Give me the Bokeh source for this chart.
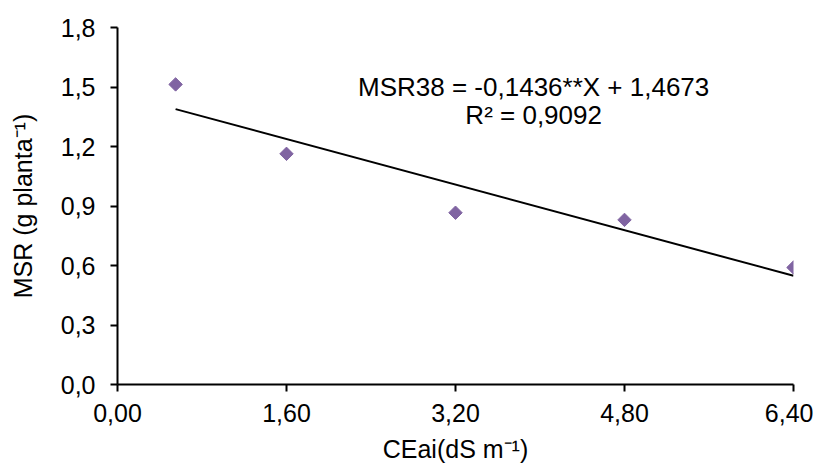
import math
from bokeh.plotting import figure
from bokeh.models import FixedTicker, Range1d, Label, ColumnDataSource
from bokeh.embed import file_html
from bokeh.resources import INLINE

# Data
cea = [0.55, 1.6, 3.2, 4.8, 6.4]
msr = [1.513, 1.163, 0.866, 0.830, 0.590]
slope = -0.1436
intercept = 1.4673
x_ticks = [0.0, 1.6, 3.2, 4.8, 6.4]
x_tick_labels = ["0,00", "1,60", "3,20", "4,80", "6,40"]
y_ticks = [0.0, 0.3, 0.6, 0.9, 1.2, 1.5, 1.8]
y_tick_labels = ["0,0", "0,3", "0,6", "0,9", "1,2", "1,5", "1,8"]
eq_text = "MSR38 = -0,1436**X + 1,4673"
r2_text = "R² = 0,9092"
x_title = "CEai(dS m⁻¹)"
y_title = "MSR (g planta⁻¹)"

FONT = "Liberation Sans"

p = figure(width=813, height=465, output_backend="svg", toolbar_location=None,
           x_range=Range1d(0, 6.4), y_range=Range1d(0, 1.8),
           min_border_left=117, min_border_right=20, min_border_top=27, min_border_bottom=81)
p.outline_line_color = None
p.grid.visible = False
p.background_fill_color = "white"
p.border_fill_color = "white"

# trendline from coefficients
tx = [min(cea), max(cea)]
ty = [slope * v + intercept for v in tx]
p.line(tx, ty, line_color="black", line_width=2)

src = ColumnDataSource(dict(x=cea, y=msr))
p.scatter("x", "y", source=src, marker="square", size=9.5, angle=math.pi / 4,
          fill_color="#8064A2", line_color="#8064A2")

for ax, ticks, labels in ((p.xaxis[0], x_ticks, x_tick_labels), (p.yaxis[0], y_ticks, y_tick_labels)):
    ax.ticker = FixedTicker(ticks=ticks)
    ax.major_label_overrides = {t: l for t, l in zip(ticks, labels)}
    ax.minor_tick_line_color = None
    ax.major_tick_in = 0
    ax.major_tick_out = 7
    ax.axis_line_width = 2
    ax.major_tick_line_width = 2
    ax.axis_line_color = "black"
    ax.major_tick_line_color = "black"
    ax.major_label_text_font = FONT
    ax.major_label_text_font_size = "25px"
    ax.major_label_text_color = "black"
    ax.axis_label_text_font = FONT
    ax.axis_label_text_font_size = "25px"
    ax.axis_label_text_font_style = "normal"
    ax.axis_label_text_color = "black"

p.xaxis.axis_label = x_title
p.yaxis.axis_label = y_title
p.xaxis.major_label_standoff = 12
p.xaxis.axis_label_standoff = 10
p.yaxis.major_label_standoff = 15
p.yaxis.axis_label_standoff = 21

p.add_layout(Label(x=3.94, y=1.50, text=eq_text, text_font=FONT, text_font_size="26px",
                   text_align="center", text_baseline="middle", text_color="black"))
p.add_layout(Label(x=3.94, y=1.357, text=r2_text, text_font=FONT, text_font_size="26px",
                   text_align="center", text_baseline="middle", text_color="black"))

open("out.html", "w").write(file_html(p, INLINE))
